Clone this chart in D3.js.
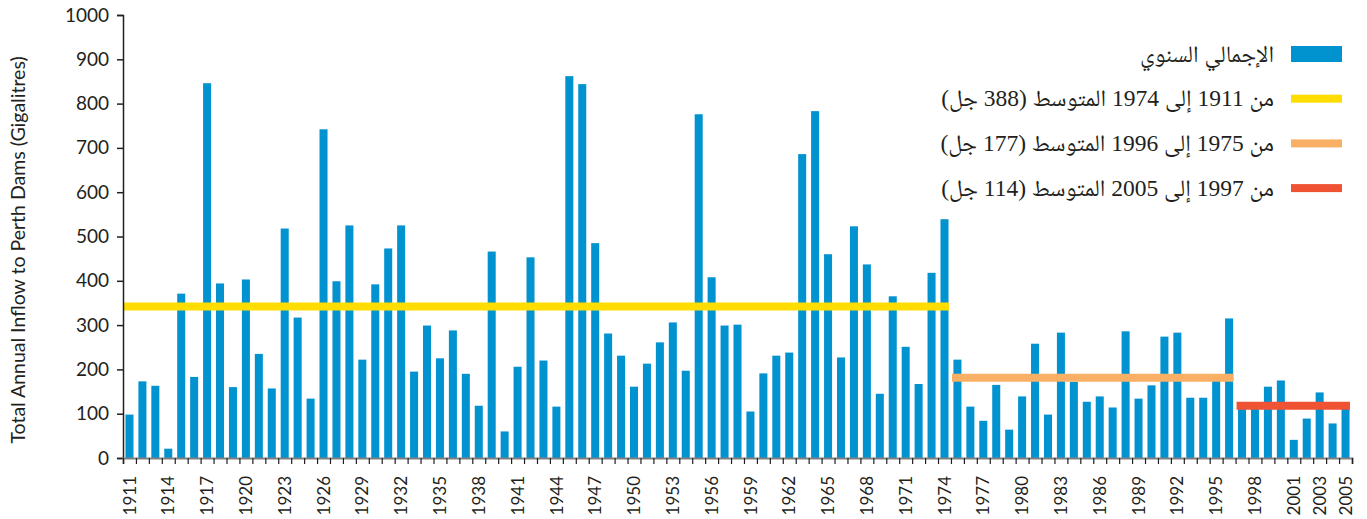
<!DOCTYPE html>
<html>
<head>
<meta charset="utf-8">
<script src="https://cdn.jsdelivr.net/npm/d3@7"></script>
<style>
	body { margin: 0; background: #fff; }
	svg { display: block; }
	.axis text { font-family: Lato, "Open Sans", sans-serif; fill: #231f20; }
	.legend text { font-family: "Liberation Serif", "Noto Naskh Arabic", "Noto Serif Arabic", "DejaVu Serif", "DejaVu Sans", serif; fill: #231f20; }
</style>
</head>
<body>
<script>
// annual inflow, gigalitres, 1911 - 2005
var years = d3.range(1911, 2006);
var inflow = [
	98, 173, 163, 21, 371, 183, 846, 394, 160, 403,
	235, 157, 518, 317, 134, 742, 399, 525, 222, 392,
	473, 525, 195, 299, 225, 288, 190, 118, 466, 60,
	206, 453, 220, 116, 862, 844, 485, 281, 231, 161,
	213, 261, 306, 197, 776, 408, 299, 301, 105, 191,
	231, 238, 686, 783, 460, 227, 523, 437, 145, 365,
	251, 167, 418, 539, 222, 116, 84, 165, 64, 139,
	258, 98, 283, 172, 127, 139, 114, 286, 134, 164,
	274, 283, 136, 136, 176, 315, 117, 115, 161, 175,
	41, 89, 148, 78, 112
];
// mean lines: [first year, last year, drawn level]
var periodStart = [1911, 1975, 1997];
var periodEnd = [1974, 1996, 2005];
var periodLevel = [342, 181, 118];
var periodColors = ["#ffdd00", "#f9b064", "#f05234"];
var legendLabels = [
	"الإجمالي السنوي",
	"من 1911 إلى 1974 المتوسط (388 جل)",
	"من 1975 إلى 1996 المتوسط (177 جل)",
	"من 1997 إلى 2005 المتوسط (114 جل)"
];
var xTickLabels = [1911, 1914, 1917, 1920, 1923, 1926, 1929, 1932, 1935, 1938,
	1941, 1944, 1947, 1950, 1953, 1956, 1959, 1962, 1965, 1968, 1971, 1974,
	1977, 1980, 1983, 1986, 1989, 1992, 1995, 1998, 2001, 2003, 2005];
var yTicks = d3.range(0, 1001, 100);

var barColor = "#0093d0";
var width = 1367, height = 519;
var offset = {left: 123, top: 15};
var chartWidth = 1229, chartHeight = 443;

function translate(x, y) { return "translate(" + x + "," + y + ")"; }

var svg = d3.select("body").append("svg")
	.attr("width", width)
	.attr("height", height);

var xScale = d3.scaleBand()
	.domain(years)
	.range([0, chartWidth])
	.paddingInner(0.38)
	.paddingOuter(0.19);
// continuous version for tick marks at the band edges
var xEdge = d3.scaleLinear()
	.domain([1910.5, 2005.5])
	.range([0, chartWidth]);
var yScale = d3.scaleLinear()
	.domain([0, 1000])
	.range([chartHeight, 0]);

var chart = svg.append("g").attr("transform", translate(offset.left, offset.top));

// bars
chart.selectAll("rect.bar")
	.data(inflow).enter()
	.append("rect")
	.attr("class", "bar")
	.attr("fill", barColor)
	.attr("x", function(d, i){ return xScale(years[i]); })
	.attr("width", xScale.bandwidth())
	.attr("y", function(d){ return yScale(d); })
	.attr("height", function(d){ return chartHeight - yScale(d); });

// mean lines
periodStart.forEach(function(start, i){
	chart.append("line")
		.attr("x1", xEdge(start - 0.5) + 1)
		.attr("x2", xEdge(periodEnd[i] + 0.5) - 2)
		.attr("y1", yScale(periodLevel[i]))
		.attr("y2", yScale(periodLevel[i]))
		.attr("stroke", periodColors[i])
		.attr("stroke-width", 8);
});

// y axis
var yAxis = chart.append("g")
	.attr("class", "axis y")
	.call(d3.axisLeft(yScale)
		.tickValues(yTicks)
		.tickFormat(d3.format("d"))
		.tickSize(6)
		.tickPadding(8));
yAxis.select(".domain").attr("stroke", "#231f20").attr("stroke-width", 1.5);
yAxis.selectAll(".tick line").attr("stroke", "#231f20").attr("stroke-width", 1.5);
yAxis.selectAll("text").style("font-size", "19px");

// x axis: tick marks between the bars
var xTicks = chart.append("g")
	.attr("class", "axis x")
	.attr("transform", translate(0, chartHeight))
	.call(d3.axisBottom(xEdge)
		.tickValues(d3.range(1910.5, 2006, 1))
		.tickSize(6)
		.tickFormat(""));
xTicks.select(".domain").attr("stroke", "#808080").attr("stroke-width", 2);
xTicks.selectAll(".tick line").attr("stroke", "#231f20").attr("stroke-width", 1.2);

// x axis: year labels, rotated
var xLabels = chart.append("g")
	.attr("class", "axis x labels")
	.attr("transform", translate(0, chartHeight))
	.call(d3.axisBottom(xScale).tickValues(xTickLabels).tickSize(0));
xLabels.select(".domain").remove();
xLabels.selectAll("text")
	.style("font-size", "17px")
	.attr("text-anchor", "end")
	.attr("transform", "rotate(-90)")
	.attr("x", -18)
	.attr("y", 0)
	.attr("dy", "0.36em");

// y axis title
svg.append("text")
	.attr("class", "axis")
	.attr("transform", translate(25, 250) + " rotate(-90)")
	.attr("text-anchor", "middle")
	.style("font-family", "Lato, 'Open Sans', sans-serif")
	.style("font-size", "19.5px")
	.attr("fill", "#231f20")
	.text("Total Annual Inflow to Perth Dams (Gigalitres)");

// legend
var legend = svg.append("g").attr("class", "legend");
var swatchColors = [barColor].concat(periodColors);
var swatchHeights = [16, 8, 8, 8];
legendLabels.forEach(function(label, i){
	var cy = 54 + i * 44.7;
	legend.append("rect")
		.attr("x", 1291)
		.attr("y", cy - swatchHeights[i] / 2)
		.attr("width", 51)
		.attr("height", swatchHeights[i])
		.attr("fill", swatchColors[i]);
	legend.append("text")
		.attr("x", 1274)
		.attr("y", cy)
		.attr("dy", "0.32em")
		.attr("direction", "rtl")
		.attr("text-anchor", "start")
		.style("font-size", "23.5px")
		.text(label);
});
</script>
</body>
</html>
